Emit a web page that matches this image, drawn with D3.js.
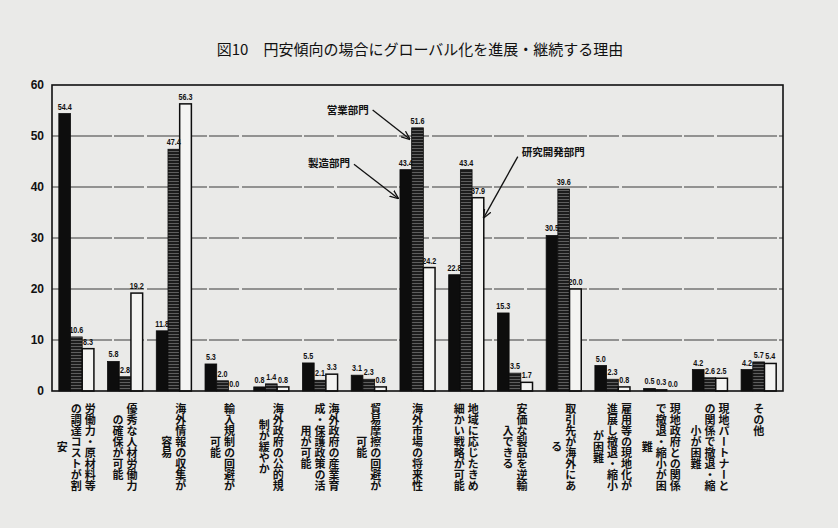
<!DOCTYPE html>
<html><head><meta charset="utf-8">
<script src="https://cdn.jsdelivr.net/npm/d3@7"></script>
<style>body{margin:0;background:#eaeae8;} svg{display:block}</style>
</head><body><svg id="c" width="838" height="528"></svg>
<script>
const title = "図10　円安傾向の場合にグローバル化を進展・継続する理由";
const categoryLines = [
  ["労働力・原材料等","の調達コストが割","安"],
  ["優秀な人材労働力","の確保が可能"],
  ["海外情報の収集が","容易"],
  ["輸入規制の回避が","可能"],
  ["海外政府の公的規","制が緩やか"],
  ["海外政府の産業育","成・保護政策の活","用が可能"],
  ["貿易摩擦の回避が","可能"],
  ["海外市場の将来性"],
  ["地域に応じたきめ","細かい戦略が可能"],
  ["安価な製品を逆輸","入できる"],
  ["取引先が海外にあ","る"],
  ["雇用等の現地化が","進展し撤退・縮小","が困難"],
  ["現地政府との関係","で撤退・縮小が困","難"],
  ["現地パートナーと","の関係で撤退・縮","小が困難"],
  ["その他"]
];
const seriesNames = ["製造部門","営業部門","研究開発部門"];
const manufacturing = [54.4, 5.8, 11.8, 5.3, 0.8, 5.5, 3.1, 43.4, 22.8, 15.3, 30.5, 5.0, 0.5, 4.2, 4.2];
const sales         = [10.6, 2.8, 47.4, 2.0, 1.4, 2.1, 2.3, 51.6, 43.4, 3.5, 39.6, 2.3, 0.3, 2.6, 5.7];
const research      = [8.3, 19.2, 56.3, 0.0, 0.8, 3.3, 0.8, 24.2, 37.9, 1.7, 20.0, 0.8, 0.0, 2.5, 5.4];
const yTicks = [0, 10, 20, 30, 40, 50, 60];

const seriesValues = [manufacturing, sales, research];
const svg = d3.select("#c");
const L = 52, R = 783, T = 85, B = 391;

const defs = svg.append("defs");
const pat = defs.append("pattern").attr("id","stripe").attr("patternUnits","userSpaceOnUse")
  .attr("width",4).attr("height",3);
pat.append("rect").attr("width",4).attr("height",3).attr("fill","#1c1c1c");
pat.append("rect").attr("y",1).attr("width",4).attr("height",1).attr("fill","#5e5e5e");
defs.append("marker").attr("id","arr").attr("viewBox","0 0 10 10").attr("refX",9).attr("refY",5)
  .attr("markerWidth",9).attr("markerHeight",9).attr("orient","auto").attr("markerUnits","userSpaceOnUse")
  .append("path").attr("d","M0,1 L10,5 L0,9").attr("fill","none").attr("stroke","#111").attr("stroke-width",1.4);

const idx = d3.range(categoryLines.length);
const x0 = d3.scaleBand().domain(idx).range([L, R]).paddingInner(0.28).paddingOuter(0.14);
const x1 = d3.scaleBand().domain(d3.range(3)).range([0, x0.bandwidth()]);
const y = d3.scaleLinear().domain([0, 60]).range([B, T]);

// title
svg.append("text").attr("x", 420).attr("y", 55).attr("text-anchor","middle")
  .attr("font-family","'Noto Sans CJK JP', sans-serif").attr("font-size",15).attr("fill","#111")
  .text(title);

// gridlines
svg.append("g").selectAll("line").data(yTicks.filter(t => t > 0 && t < 60)).join("line")
  .attr("x1", L).attr("x2", R).attr("y1", d => y(d)).attr("y2", d => y(d))
  .attr("stroke","#3a3a3a").attr("stroke-width",1).attr("stroke-dasharray","60 2 30 3");

// y axis labels
const yAxis = d3.axisLeft(y).tickValues(yTicks).tickSize(0).tickPadding(8);
const ya = svg.append("g").attr("transform", `translate(${L},0)`).call(yAxis);
ya.select(".domain").remove();
ya.selectAll("text").attr("font-family","'Liberation Sans', Arial, sans-serif")
  .attr("font-weight","bold").attr("font-size",12).attr("fill","#111");

// bars
const fills = ["#0d0d0d","url(#stripe)","#f4f4f2"];
const groups = svg.append("g").selectAll("g").data(idx).join("g")
  .attr("transform", i => `translate(${x0(i)},0)`);
groups.selectAll("rect").data(i => seriesValues.map((s, k) => ({k, v: s[i]}))).join("rect")
  .attr("x", d => x1(d.k)).attr("width", x1.bandwidth())
  .attr("y", d => y(d.v)).attr("height", d => B - y(d.v))
  .attr("fill", d => fills[d.k]).attr("stroke","#0d0d0d").attr("stroke-width", d => d.k === 2 ? 1.5 : 0.8);
groups.selectAll("text").data(i => seriesValues.map((s, k) => ({k, v: s[i]}))).join("text")
  .attr("transform", d => `translate(${x1(d.k) + x1.bandwidth()/2},${y(d.v) - 4}) scale(0.8,1)`)
  .attr("text-anchor","middle")
  .attr("font-family","'Liberation Sans', Arial, sans-serif")
  .attr("font-weight","bold").attr("font-size",9).attr("fill","#111")
  .text(d => d.v.toFixed(1));

// frame
svg.append("rect").attr("x", L).attr("y", T).attr("width", R - L).attr("height", B - T)
  .attr("fill","none").attr("stroke","#111").attr("stroke-width",1.6);

// category labels (vertical, right to left)
const labelTop = 403, pitch = 11, colGap = 14;
const lab = svg.append("g").attr("font-family","'Noto Sans CJK JP', sans-serif")
  .attr("font-size",11).attr("font-weight","bold").attr("fill","#111");
idx.forEach(i => {
  const lines = categoryLines[i];
  const cx = x0(i) + x0.bandwidth()/2;
  const n = lines.length;
  const maxLen = d3.max(lines, s => s.length);
  const cy = labelTop + maxLen * pitch / 2;
  lines.forEach((s, j) => {
    lab.append("text")
      .attr("x", cx + ((n - 1) / 2 - j) * colGap)
      .attr("y", cy)
      .attr("writing-mode","vertical-rl")
      .attr("text-anchor","middle")
      .text(s);
  });
});

// annotations (series callouts)
const annotations = [
  {name: seriesNames[1], cat: 7, k: 1, v: 49.4, edge: "left",  dx: -37, dy: -29, anchor: "end",   tx: -4, ty: 4},
  {name: seriesNames[0], cat: 7, k: 0, v: 37.8, edge: "left",  dx: -44, dy: -34, anchor: "end",   tx: -4, ty: 3},
  {name: seriesNames[2], cat: 8, k: 2, v: 34.0, edge: "right", dx: 34,  dy: -61, anchor: "start", tx: 4,  ty: -1}
];
const ann = svg.append("g");
annotations.forEach(a => {
  const bx = x0(a.cat) + x1(a.k) + (a.edge === "right" ? x1.bandwidth() : 0);
  const tipX = bx + (a.edge === "right" ? 0 : -2);
  const tipY = y(a.v);
  const sx = tipX + a.dx, sy = tipY + a.dy;
  ann.append("line").attr("x1", sx).attr("y1", sy).attr("x2", tipX).attr("y2", tipY)
    .attr("stroke","#111").attr("stroke-width",1.3).attr("marker-end","url(#arr)");
  ann.append("text").attr("x", sx + a.tx).attr("y", sy + a.ty).attr("text-anchor", a.anchor)
    .attr("font-family","'Noto Sans CJK JP', sans-serif").attr("font-weight","bold")
    .attr("font-size",10.5).attr("fill","#111").text(a.name);
});
</script></body></html>
